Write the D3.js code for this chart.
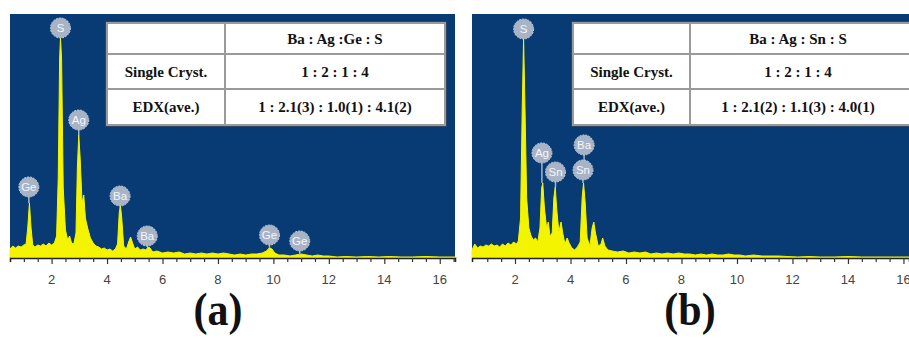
<!DOCTYPE html>
<html>
<head>
<meta charset="utf-8">
<script src="https://cdn.jsdelivr.net/npm/d3@7"></script>
<style>
  body { margin: 0; background: #fff; }
  svg { display: block; }
</style>
</head>
<body>
<div id="chart"></div>
<script>
// EDX spectra, two panels: (a) BaAg2GeS4, (b) BaAg2SnS4
// spectrum points: [keV, counts]
var spectrumA = [
  [0.5, 9], [0.6, 12], [0.7, 10], [0.8, 12], [0.9, 11], [1.0, 13], [1.08, 14], [1.14, 30],
  [1.2, 55], [1.26, 30], [1.32, 13], [1.4, 11], [1.5, 13], [1.6, 12], [1.7, 14], [1.8, 12],
  [1.9, 15], [2.0, 13], [2.1, 15], [2.18, 22], [2.24, 80], [2.29, 200], [2.32, 220], [2.36, 200],
  [2.42, 70], [2.5, 28], [2.58, 18], [2.65, 22], [2.72, 15], [2.8, 14], [2.88, 25], [2.93, 90],
  [2.98, 123], [3.03, 100], [3.1, 55], [3.16, 63], [3.22, 40], [3.3, 30], [3.4, 20], [3.5, 15],
  [3.6, 12], [3.7, 11], [3.8, 9], [3.9, 10], [4.0, 8], [4.1, 9], [4.2, 7], [4.3, 9],
  [4.38, 14], [4.44, 45], [4.48, 53], [4.53, 40], [4.6, 12], [4.7, 9], [4.78, 16], [4.85, 21],
  [4.92, 15], [5.0, 9], [5.1, 11], [5.2, 8], [5.3, 9], [5.4, 8], [5.48, 11], [5.55, 10],
  [5.65, 6], [5.8, 7], [6.0, 5], [6.2, 6], [6.4, 5], [6.6, 6], [6.8, 4], [7.0, 5],
  [7.2, 4], [7.4, 5], [7.6, 4], [7.8, 5], [8.0, 4], [8.2, 5], [8.4, 4], [8.6, 3],
  [8.8, 4], [9.0, 3], [9.2, 4], [9.4, 4], [9.6, 5], [9.75, 7], [9.85, 10], [9.95, 9],
  [10.05, 5], [10.2, 3], [10.4, 3], [10.6, 2], [10.8, 3], [11.0, 4], [11.2, 3], [11.4, 2],
  [11.6, 3], [11.8, 2], [12.0, 2], [12.3, 1], [12.6, 1.5], [13.0, 1], [13.4, 1.5], [13.8, 1],
  [14.2, 1.5], [14.6, 1], [15.0, 1], [15.5, 1.5], [16.0, 1], [16.6, 1]
];

var spectrumB = [
  [0.45, 8], [0.55, 14], [0.65, 10], [0.75, 12], [0.85, 11], [0.95, 13], [1.05, 12], [1.15, 14],
  [1.25, 12], [1.35, 13], [1.45, 11], [1.55, 14], [1.65, 12], [1.75, 15], [1.85, 13], [1.95, 16],
  [2.05, 14], [2.12, 17], [2.2, 40], [2.26, 150], [2.31, 220], [2.36, 150], [2.42, 60], [2.5, 30],
  [2.58, 22], [2.66, 18], [2.74, 20], [2.82, 16], [2.9, 30], [2.96, 70], [3.0, 75], [3.06, 50],
  [3.14, 30], [3.2, 36], [3.26, 22], [3.34, 25], [3.4, 60], [3.45, 71], [3.5, 50], [3.58, 26],
  [3.66, 36], [3.72, 25], [3.8, 14], [3.88, 20], [3.95, 15], [4.05, 10], [4.15, 8], [4.25, 11],
  [4.35, 16], [4.42, 60], [4.47, 75], [4.53, 55], [4.6, 20], [4.7, 12], [4.78, 30], [4.84, 36],
  [4.9, 25], [5.0, 12], [5.1, 14], [5.16, 20], [5.24, 12], [5.35, 8], [5.5, 7], [5.7, 6],
  [5.9, 7], [6.1, 5], [6.3, 6], [6.5, 5], [6.7, 6], [6.9, 4], [7.1, 5], [7.3, 4],
  [7.5, 5], [7.7, 4], [7.9, 5], [8.1, 4], [8.3, 4], [8.5, 3], [8.7, 4], [8.9, 3],
  [9.1, 4], [9.3, 3], [9.5, 3], [9.7, 4], [9.9, 3], [10.1, 3], [10.3, 2], [10.6, 3],
  [10.9, 2], [11.2, 2], [11.5, 2], [11.8, 1.5], [12.2, 1], [12.6, 1.5], [13.0, 1], [13.5, 1],
  [14.0, 1.5], [14.5, 1], [15.0, 1], [15.5, 1], [16.3, 1]
];

// peak labels: element, keV of bubble, bubble level, peak top
var labelsA = [
  ["S", 2.32, 230, 220], ["Ag", 2.98, 138, 123], ["Ge", 1.18, 71, 55], ["Ba", 4.47, 62, 53],
  ["Ba", 5.45, 22, 11], ["Ge", 9.86, 23, 10], ["Ge", 10.95, 17, 3]
];
var labelsB = [
  ["S", 2.31, 229, 220], ["Ag", 2.97, 105, 75], ["Sn", 3.46, 86, 71], ["Ba", 4.49, 113, 88],
  ["Sn", 4.45, 88, 75]
];

var tableHeadA = "Ba : Ag :Ge : S";
var tableHeadB = "Ba : Ag : Sn : S";
var rowNames = ["Single Cryst.", "EDX(ave.)"];
var rowsA = ["1 : 2 : 1 : 4", "1 : 2.1(3) : 1.0(1) : 4.1(2)"];
var rowsB = ["1 : 2 : 1 : 4", "1 : 2.1(2) : 1.1(3) : 4.0(1)"];
var panelTags = ["(a)", "(b)"];

var svg = d3.select("#chart").append("svg")
  .attr("width", 909)
  .attr("height", 338);

var blue = "#083a74",
    yellow = "#f4f400",
    bubbleCol = "#a8b4c6";

function drawPanel(spec, labels, head, rows, tag, opt) {
  var g = svg.append("g");
  var x = d3.scaleLinear().domain(opt.domain).range([opt.left, opt.right]);
  var y = d3.scaleLinear().domain([0, 244]).range([258, 14]);

  // plot background
  g.append("rect")
    .attr("x", opt.left).attr("y", 14)
    .attr("width", opt.right - opt.left).attr("height", 244)
    .style("fill", blue);

  var area = d3.area()
    .x(function(d) { return x(d[0]); })
    .y0(y(0))
    .y1(function(d) { return y(d[1]); })
    .curve(d3.curveLinear);

  g.append("path")
    .datum(spec)
    .attr("d", area)
    .style("fill", yellow)
    .style("stroke", yellow)
    .style("stroke-width", 1);

  // axis
  var axis = d3.axisBottom(x)
    .tickValues(d3.range(1, 17, 0.5))
    .tickSize(4)
    .tickFormat("");
  var ax = g.append("g").attr("transform", "translate(0,258)").call(axis);
  ax.select(".domain").style("stroke", "#222").style("stroke-width", 1.5);
  ax.selectAll(".tick line").style("stroke", "#333").style("stroke-width", 1.2)
    .attr("y2", function(d) { return d % 2 == 0 ? 6 : 4; });

  g.selectAll(".tlab")
    .data(d3.range(2, 17, 2))
    .enter()
    .append("text")
      .attr("x", function(d) { return x(d); })
      .attr("y", 284)
      .text(function(d) { return d; })
      .style("font-family", "Liberation Sans, Arial, sans-serif")
      .style("font-size", "13px")
      .style("fill", "#444")
      .style("text-anchor", "middle");

  // peak bubbles
  var b = g.selectAll(".bub")
    .data(labels)
    .enter()
    .append("g");
  b.append("line")
    .attr("x1", function(d) { return x(d[1]); })
    .attr("x2", function(d) { return x(d[1]); })
    .attr("y1", function(d) { return y(d[2]); })
    .attr("y2", function(d) { return y(d[3]); })
    .style("stroke", bubbleCol)
    .style("stroke-width", 1.5);
  b.append("circle")
    .attr("cx", function(d) { return x(d[1]); })
    .attr("cy", function(d) { return y(d[2]); })
    .attr("r", 10)
    .style("fill", bubbleCol)
    .style("stroke", "#c4cedb")
    .style("stroke-width", 1)
    .style("stroke-dasharray", "2,1");
  b.append("text")
    .attr("x", function(d) { return x(d[1]); })
    .attr("y", function(d) { return y(d[2]) + 4; })
    .text(function(d) { return d[0]; })
    .style("font-family", "Liberation Sans, Arial, sans-serif")
    .style("font-size", "11.5px")
    .style("fill", "#f4f6fa")
    .style("text-anchor", "middle");

  // ratio table
  var tx = opt.tableX, tw = opt.tableW, col = opt.tableCol;
  var rowsY = [23, 54, 89, 125];
  g.append("rect")
    .attr("x", tx - 1).attr("y", rowsY[0] - 1)
    .attr("width", tw + 2).attr("height", rowsY[3] - rowsY[0] + 2)
    .style("fill", "none").style("stroke", "#555").style("stroke-width", 1);
  g.append("rect")
    .attr("x", tx).attr("y", rowsY[0])
    .attr("width", tw).attr("height", rowsY[3] - rowsY[0])
    .style("fill", "#fff").style("stroke", "#9a9a9a").style("stroke-width", 2);
  g.append("line")
    .attr("x1", tx + col).attr("x2", tx + col)
    .attr("y1", rowsY[0]).attr("y2", rowsY[3])
    .style("stroke", "#9a9a9a").style("stroke-width", 2);
  [rowsY[1], rowsY[2]].forEach(function(yy) {
    g.append("line")
      .attr("x1", tx).attr("x2", tx + tw)
      .attr("y1", yy).attr("y2", yy)
      .style("stroke", "#9a9a9a").style("stroke-width", 2);
  });
  var right = opt.tableRightMid;
  var cells = [
    [right, (rowsY[0] + rowsY[1]) / 2, head],
    [tx + col / 2, (rowsY[1] + rowsY[2]) / 2, rowNames[0]],
    [tx + col / 2, (rowsY[2] + rowsY[3]) / 2, rowNames[1]],
    [right, (rowsY[1] + rowsY[2]) / 2, rows[0]],
    [right, (rowsY[2] + rowsY[3]) / 2, rows[1]]
  ];
  g.selectAll(".cell")
    .data(cells)
    .enter()
    .append("text")
      .attr("x", function(d) { return d[0]; })
      .attr("y", function(d) { return d[1] + 5; })
      .text(function(d) { return d[2]; })
      .style("font-family", "Liberation Serif, Times New Roman, serif")
      .style("font-weight", "bold")
      .style("font-size", "15px")
      .style("fill", "#111")
      .style("text-anchor", "middle");

  // panel tag, slightly stretched vertically as in the figure
  g.append("text")
    .attr("transform", "translate(" + opt.tagX + ",325) scale(1,1.12)")
    .text(tag)
    .style("font-family", "Liberation Serif, Times New Roman, serif")
    .style("font-weight", "bold")
    .style("font-size", "42px")
    .style("fill", "#111")
    .style("text-anchor", "middle");
}

drawPanel(spectrumA, labelsA, tableHeadA, rowsA, panelTags[0], {
  domain: [0.5, 16.55], left: 10, right: 455,
  tableX: 107, tableW: 338, tableCol: 118, tableRightMid: 335, tagX: 218
});
drawPanel(spectrumB, labelsB, tableHeadB, rowsB, panelTags[1], {
  domain: [0.45, 16.2], left: 472, right: 909,
  tableX: 573, tableW: 345, tableCol: 117, tableRightMid: 798, tagX: 690
});
</script>
</body>
</html>
